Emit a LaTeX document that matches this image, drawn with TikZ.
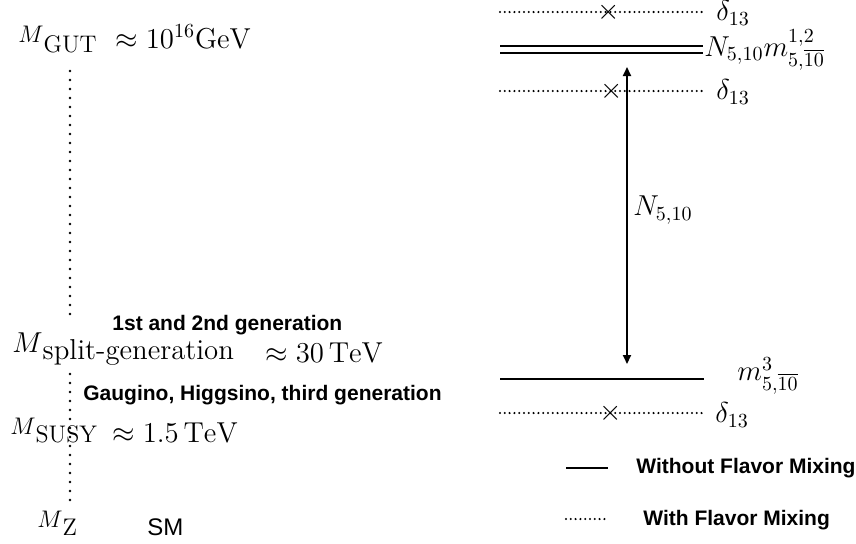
\documentclass[tikz,border=0pt]{standalone}
\usepackage{fontspec}
\usetikzlibrary{arrows.meta}
\newfontfamily\helv{Liberation Sans}
\newcommand{\scalemass}[2]{$M$\raisebox{#1}{#2}}

\begin{document}
\begin{tikzpicture}[x=0.5pt,y=-0.5pt,
    vdots/.style={line width=1.4pt,line cap=round,dash pattern=on 0pt off 4.5pt},
    hdots/.style={line width=1.15pt,line cap=round,dash pattern=on 0pt off 2.4pt},
    level/.style={line width=0.9pt},
    lab/.style={inner sep=0pt,font=\Large},
    txt/.style={inner sep=0pt,font=\helv\bfseries\fontsize{10.5}{12}\selectfont},
    cross/.style={inner sep=0pt,font=\Large}]
    \useasboundingbox (0,0) rectangle (856,543);

    % Energy scales
    \node[lab,anchor=base west,font=\large] (mgut) at (18,42) {\scalemass{-5pt}{GUT}};
    \node[lab,anchor=base west] (egut) at (115,48) {$\approx 10^{16}\mathrm{GeV}$};
    \node[lab,anchor=base west] (msplit) at (12,352) {\scalemass{-3.5pt}{split-generation}};
    \node[lab,anchor=base west] (esplit) at (265,362) {$\approx 30\,\mathrm{TeV}$};
    \node[lab,anchor=base west,font=\large] (msusy) at (10,434) {\scalemass{-4pt}{SUSY}};
    \node[lab,anchor=base west] (esusy) at (112,442) {$\approx 1.5\,\mathrm{TeV}$};
    \node[lab,anchor=base west,font=\large] (mz) at (37,527) {\scalemass{-4pt}{Z}};
    \node[txt,anchor=base west] (gen12) at (112,330) {1st and 2nd generation};
    \node[txt,anchor=base west] (gen3) at (83,400) {Gaugino, Higgsino, third generation};
    \node[inner sep=0pt,anchor=base west,font=\helv\fontsize{12}{14}\selectfont] (sm) at (147,535) {SM};

    % Running
    \coordinate (top) at (70,71); \coordinate (gapa) at (70,321);
    \coordinate (gapb) at (70,374); \coordinate (bot) at (70,504);
    \draw[vdots] (top) -- (gapa);
    \draw[vdots] (gapb) -- (bot);

    % Level 1
    \coordinate (la1) at (500,12); \coordinate (lb1) at (703,12);
    \draw[hdots] (la1) -- (lb1);
    \node[cross] (x1) at (609,12) {$\times$};
    \node[lab,anchor=west] (d1) at (716,13) {$\delta_{13}$};

    % Level 2
    \coordinate (la2) at (500,49.5); \coordinate (lb2) at (703,49.5);
    \draw[line width=0.8pt,double,double distance=2.6pt] (la2) -- (lb2);
    \node[lab,anchor=west] (n12) at (704,50) {$N_{5,10}m^{1,2}_{5,\overline{10}}$};

    % Level 3
    \coordinate (la3) at (500,91); \coordinate (lb3) at (703,91);
    \draw[hdots] (la3) -- (lb3);
    \node[cross] (x3) at (612,91) {$\times$};
    \node[lab,anchor=west] (d3) at (716,92) {$\delta_{13}$};

    % Gap
    \coordinate (atop) at (627,67); \coordinate (abot) at (627,364);
    \draw[level,{Triangle[length=4.5pt,width=4pt]}-{Triangle[length=4.5pt,width=4pt]}] (atop) -- (abot);
    \node[lab,anchor=west] (nlab) at (633,210) {$N_{5,10}$};

    % Level 4
    \coordinate (la4) at (500,379); \coordinate (lb4) at (704,379);
    \draw[level] (la4) -- (lb4);
    \node[lab,anchor=west] (m3) at (737,376) {$m^{3}_{5,\overline{10}}$};

    % Level 5
    \coordinate (la5) at (500,413); \coordinate (lb5) at (703,413);
    \draw[hdots] (la5) -- (lb5);
    \node[cross] (x5) at (611,413) {$\times$};
    \node[lab,anchor=west] (d5) at (715,415) {$\delta_{13}$};

    % Legend
    \coordinate (ka) at (566,468); \coordinate (kb) at (608,468);
    \draw[level] (ka) -- (kb);
    \node[txt,anchor=west] (leg1) at (636,468) {Without Flavor Mixing};
    \coordinate (kc) at (566,519); \coordinate (kd) at (608,519);
    \draw[hdots] (kc) -- (kd);
    \node[txt,anchor=west] (leg2) at (643,520) {With Flavor Mixing};
\end{tikzpicture}
\end{document}
